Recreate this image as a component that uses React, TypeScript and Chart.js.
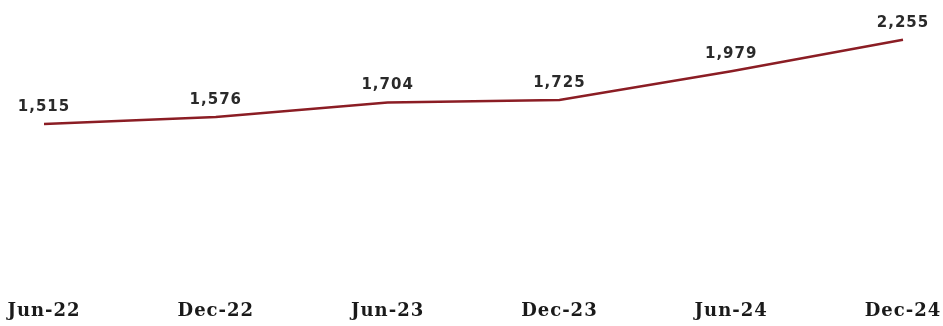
import React, { useEffect, useRef } from "react";
import { Chart, registerables } from "chart.js";

Chart.register(...registerables);

const categories: string[] = ["Jun-22", "Dec-22", "Jun-23", "Dec-23", "Jun-24", "Dec-24"];
const values: number[] = [1515, 1576, 1704, 1725, 1979, 2255];

const fmt = (v: number) => v.toLocaleString("en-US");

const labelPlugin = {
  id: "customLabels",
  afterDatasetsDraw(chart: any) {
    const ctx = chart.ctx as CanvasRenderingContext2D;
    const meta = chart.getDatasetMeta(0);
    const xScale = chart.scales.x;
    ctx.save();
    // value labels
    ctx.font = "bold 15px 'DejaVu Sans'";
    (ctx as any).letterSpacing = "1px";
    ctx.fillStyle = "#2a2a2a";
    ctx.textAlign = "center";
    ctx.textBaseline = "alphabetic";
    meta.data.forEach((pt: any, i: number) => {
      ctx.fillText(fmt(values[i]), pt.x, pt.y - 13);
    });
    // category labels
    ctx.font = "bold 18px 'DejaVu Serif'";
    (ctx as any).letterSpacing = "1px";
    ctx.fillStyle = "#1a1a1a";
    categories.forEach((c, i) => {
      const x = xScale.getPixelForValue(i);
      ctx.fillText(c, x, 316);
    });
    ctx.restore();
  },
};

export default function App() {
  const ref = useRef<HTMLCanvasElement | null>(null);
  useEffect(() => {
    document.body.style.margin = "0";
    if (!ref.current) return;
    const chart = new Chart(ref.current, {
      type: "line",
      data: {
        labels: categories,
        datasets: [
          {
            data: values,
            borderColor: "#8b1d24",
            borderWidth: 2.5,
            pointRadius: 0,
            tension: 0,
            fill: false,
          },
        ],
      },
      options: {
        animation: false,
        responsive: false,
        maintainAspectRatio: false,
        layout: { padding: { left: 44, right: 40, top: 12, bottom: 30 } },
        plugins: { legend: { display: false }, tooltip: { enabled: false } },
        scales: {
          x: { display: false, offset: false },
          y: { display: false, min: 0, max: 2500 },
        },
      },
      plugins: [labelPlugin],
    });
    return () => chart.destroy();
  }, []);
  return (
    <div style={{ width: 943, height: 326, background: "#fff" }}>
      <canvas ref={ref} width={943} height={326} style={{ display: "block" }} />
    </div>
  );
}
